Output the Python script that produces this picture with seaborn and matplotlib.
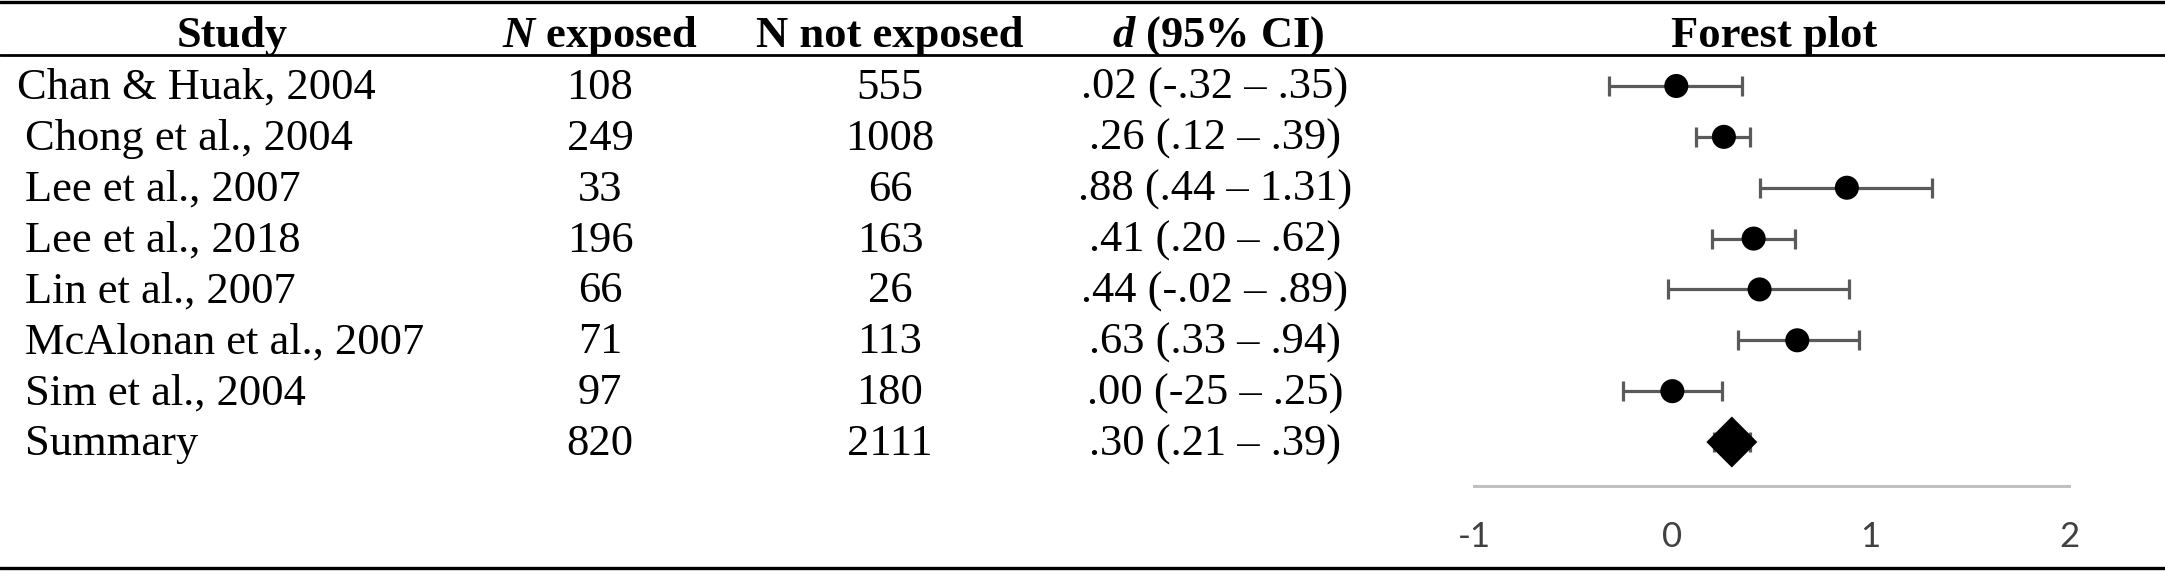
import matplotlib
matplotlib.use("Agg")
import matplotlib.pyplot as plt
import matplotlib.transforms as mtransforms
from matplotlib.lines import Line2D
import seaborn as sns
import pandas as pd

# ---------------- data ----------------
studies = ["Chan & Huak, 2004", "Chong et al., 2004", "Lee et al., 2007",
           "Lee et al., 2018", "Lin et al., 2007", "McAlonan et al., 2007",
           "Sim et al., 2004", "Summary"]
n_exposed = [108, 249, 33, 196, 66, 71, 97, 820]
n_not_exposed = [555, 1008, 66, 163, 26, 113, 180, 2111]
d_values = [0.02, 0.26, 0.88, 0.41, 0.44, 0.63, 0.00, 0.30]
ci_low = [-0.32, 0.12, 0.44, 0.20, -0.02, 0.33, -0.25, 0.21]
ci_high = [0.35, 0.39, 1.31, 0.62, 0.89, 0.94, 0.25, 0.39]
ci_text = [".02 (-.32 – .35)", ".26 (.12 – .39)", ".88 (.44 – 1.31)",
           ".41 (.20 – .62)", ".44 (-.02 – .89)", ".63 (.33 – .94)",
           ".00 (-25 – .25)", ".30 (.21 – .39)"]
headers = ["Study", "$N$ exposed", "N not exposed", "$d$ (95% CI)", "Forest plot"]
x_ticks = [-1, 0, 1, 2]

# ---------------- style ----------------
sns.set_theme(style="white")
plt.rcParams["font.family"] = ["Liberation Serif", "DejaVu Serif"]
plt.rcParams["mathtext.fontset"] = "custom"
plt.rcParams["mathtext.it"] = "Liberation Serif:italic:bold"
plt.rcParams["mathtext.rm"] = "Liberation Serif:bold"
plt.rcParams["mathtext.bf"] = "Liberation Serif:bold"

W, H = 2165, 572
DPI = 100
fig = plt.figure(figsize=(W / DPI, H / DPI), dpi=DPI)
fig.patch.set_facecolor("white")

def fx(px):
    return px / W

def fy(py):
    return 1 - py / H

# forest axes: x -1..2 spans px 1474..2069, rows start at px 86 with 50.86 spacing
row0, row_step = 86.0, 50.86
ax_top, ax_bot = 58.0, 486.0
ax_f = fig.add_axes([fx(1474), fy(ax_bot), fx(2069) - fx(1474), (ax_bot - ax_top) / H])
rows = list(range(len(studies)))
ax_f.set_xlim(-1, 2)
ax_f.set_ylim((ax_bot - row0) / row_step, (ax_top - row0) / row_step)

df = pd.DataFrame({"study": studies, "row": rows, "d": d_values,
                   "lo": ci_low, "hi": ci_high})
df["kind"] = ["Summary" if s == "Summary" else "Study" for s in studies]

err_col = "#5a5a5a"
ax_f.errorbar(df["d"], df["row"],
              xerr=[df["d"] - df["lo"], df["hi"] - df["d"]],
              fmt="none", ecolor=err_col, elinewidth=2.3, capsize=7,
              capthick=2.3, zorder=2)
sns.scatterplot(data=df[df["kind"] == "Study"], x="d", y="row", s=300,
                color="black", edgecolor="none", marker="o", ax=ax_f,
                zorder=3, legend=False)
sns.scatterplot(data=df[df["kind"] == "Summary"], x="d", y="row", s=674,
                color="black", edgecolor="none", marker="D", ax=ax_f,
                zorder=3, legend=False)

ax_f.set_xlabel("")
ax_f.set_ylabel("")
ax_f.set_yticks([])
ax_f.set_xticks(x_ticks)
ax_f.set_xticklabels([str(t) for t in x_ticks], family="Lato", fontsize=25,
                     color="#404040")
ax_f.tick_params(axis="x", length=0, pad=25)
for side in ["left", "right", "top"]:
    ax_f.spines[side].set_visible(False)
ax_f.spines["bottom"].set_color("#c0c0c0")
ax_f.spines["bottom"].set_linewidth(2.2)
ax_f.patch.set_alpha(0)

# ---------------- table text ----------------
fs = 32
blend = mtransforms.blended_transform_factory(fig.transFigure, ax_f.transData)
tr = mtransforms.offset_copy(blend, fig=fig, x=0, y=-13, units="dots")

name_x = [17] + [25] * (len(studies) - 1)
for i, r in enumerate(rows):
    fig.text(fx(name_x[i]), r, studies[i], transform=tr, ha="left",
             va="baseline", fontsize=fs, color="black")
    fig.text(fx(600), r, str(n_exposed[i]), transform=tr, ha="center",
             va="baseline", fontsize=fs, color="black")
    fig.text(fx(890), r, str(n_not_exposed[i]), transform=tr, ha="center",
             va="baseline", fontsize=fs, color="black")
    fig.text(fx(1215), r, ci_text[i], transform=tr, ha="center",
             va="baseline", fontsize=fs, color="black")

header_x = [232, 600, 890, 1218, 1774]
for hx, h in zip(header_x, headers):
    fig.text(fx(hx), fy(47), h, ha="center", va="baseline", fontsize=fs,
             fontweight="bold", color="black")

# ---------------- rules ----------------
for py, lw in [(2, 2.4), (55, 2.0), (568, 2.4)]:
    fig.add_artist(Line2D([0, 1], [fy(py), fy(py)], transform=fig.transFigure,
                          color="black", linewidth=lw))

fig.savefig("out.png", dpi=DPI, facecolor="white")
